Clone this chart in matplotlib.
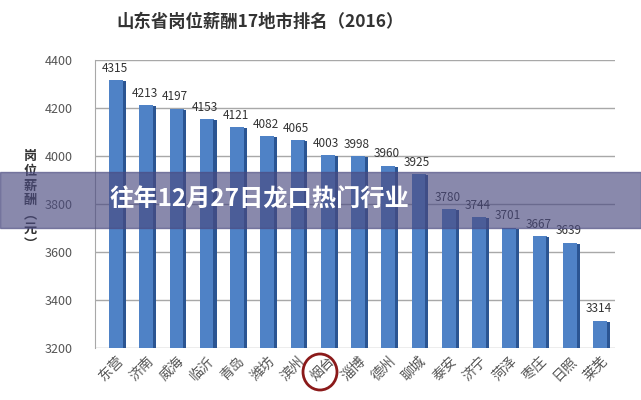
import numpy as np
import matplotlib.pyplot as plt
from matplotlib.patches import Ellipse

plt.rcParams["font.family"] = ["Noto Sans CJK SC", "DejaVu Sans"]

cities = ["东营", "济南", "威海", "临沂", "青岛", "潍坊", "滨州", "烟台", "淄博",
          "德州", "聊城", "泰安", "济宁", "菏泽", "枣庄", "日照", "莱芜"]
salary = [4315, 4213, 4197, 4153, 4121, 4082, 4065, 4003, 3998,
          3960, 3925, 3780, 3744, 3701, 3667, 3639, 3314]
yticks = [3200, 3400, 3600, 3800, 4000, 4200, 4400]

fig = plt.figure(figsize=(6.41, 4.00), dpi=100)
ax = fig.add_axes([0.148, 0.13, 0.812, 0.72])

x = np.arange(len(cities))
base = 3200
h = np.array(salary) - base

# front face + darker side face for a 3D-ish look
ax.bar(x, h, bottom=base, width=0.46, color="#4f82c6", zorder=3)
ax.bar(x + 0.27, h - 4, bottom=base, width=0.1, color="#2b5592", zorder=3)

for xi, v in zip(x, salary):
    ax.text(xi - 0.05, v + 22, str(v), ha="center", va="bottom",
            fontsize=8.5, color="#333333", zorder=4)

ax.set_xlim(-0.7, 16.5)
ax.set_ylim(3200, 4400)
ax.set_yticks(yticks)
ax.set_yticklabels([str(t) for t in yticks], fontsize=9, color="#555555")
ax.yaxis.grid(True, color="#a8a8a8", linewidth=1)
ax.set_axisbelow(True)
ax.tick_params(axis="y", length=0, pad=16)
ax.tick_params(axis="x", length=0, pad=4)
ax.set_xticks(x)
ax.set_xticklabels(cities, rotation=45, ha="right", rotation_mode="anchor",
                   fontsize=10, color="#555555")
for side in ["top", "right", "bottom"]:
    ax.spines[side].set_visible(False)
ax.spines["left"].set_color("#a8a8a8")

fig.text(0.405, 0.945, "山东省岗位薪酬17地市排名（2016）", ha="center", va="center",
         fontsize=12.5, fontweight="bold", color="#333333")
fig.text(0.047, 0.5, "岗\n位\n薪\n酬\n︵\n元\n︶", ha="center", va="center",
         fontsize=9.5, fontweight="bold", color="#333333", linespacing=1.05)

# red circle around 烟台
fig.patches.append(Ellipse((320 / 641, 1 - 372 / 400), 34 / 641, 36 / 400,
                           transform=fig.transFigure, fill=False,
                           edgecolor="#8b1a1a", linewidth=2))

# overlay banner
fig.patches.append(plt.Rectangle((0, 0.43), 1, 0.14, transform=fig.transFigure,
                                 color="#4a4a80", alpha=0.65, zorder=10))
fig.text(0.405, 0.5, "往年12月27日龙口热门行业", ha="center", va="center",
         fontsize=17.5, fontweight="bold", color="white", zorder=11)

fig.savefig("out.png", dpi=100)
